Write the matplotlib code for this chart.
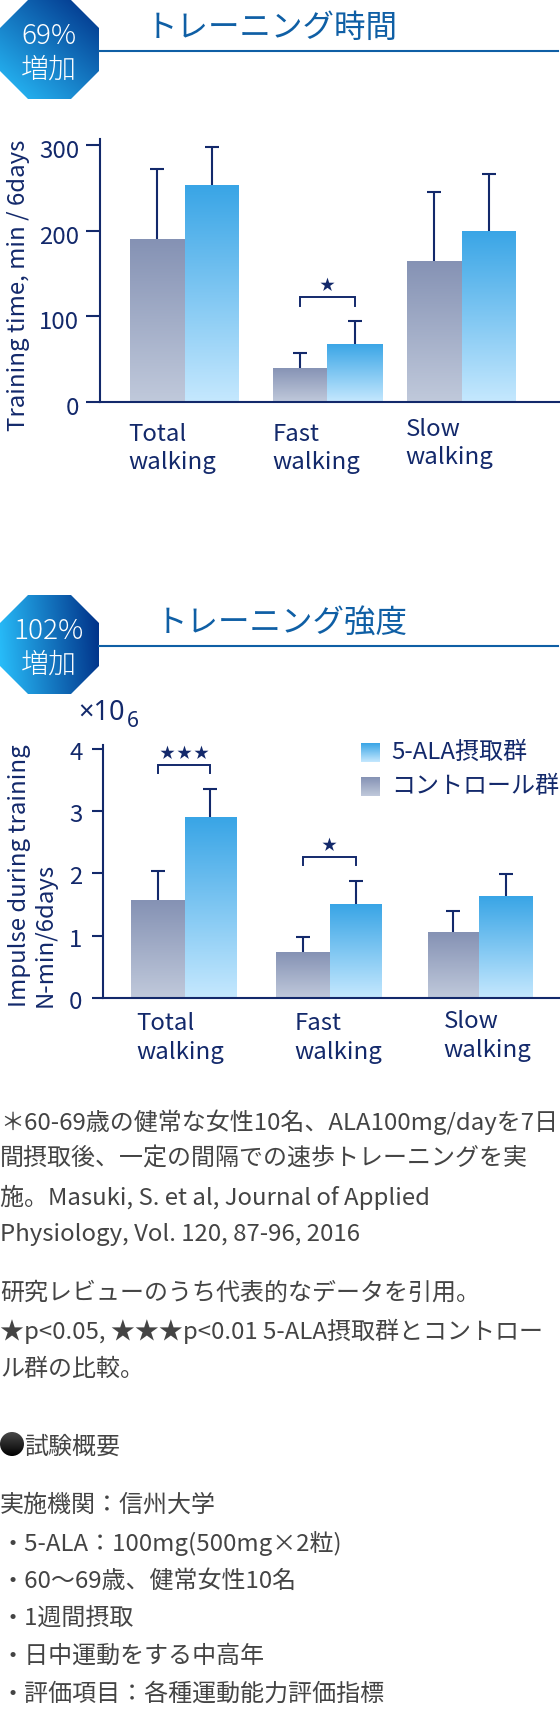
import numpy as np
import matplotlib
matplotlib.use('Agg')
import matplotlib.pyplot as plt
from matplotlib.patches import Polygon, Circle
from matplotlib.transforms import ScaledTranslation

plt.rcParams['font.family'] = ['Noto Sans CJK JP', 'DejaVu Sans']

# ── Data ────────────────────────────────────────────────────────────────
categories = ['Total\nwalking', 'Fast\nwalking', 'Slow\nwalking']

time_control = [190, 40, 165]
time_control_err = [272, 57, 245]
time_ala = [253, 68, 200]
time_ala_err = [298, 95, 266]

impulse_control = [1.57, 0.73, 1.05]
impulse_control_err = [2.03, 0.97, 1.39]
impulse_ala = [2.90, 1.50, 1.63]
impulse_ala_err = [3.36, 1.87, 1.99]

time_ticks = [0, 100, 200, 300]
impulse_ticks = [0, 1, 2, 3, 4]

# group index, bracket level, foot level, number of stars
time_marks = [(1, 122, 112, 1)]
impulse_marks = [(0, 3.74, 3.61, 3), (1, 2.26, 2.13, 1)]

body_lines = [
    ('＊60-69歳の健常な女性10名、ALA100mg/dayを7日', 1122),
    ('間摂取後、一定の間隔での速歩トレーニングを実', 1159),
    ('施。Masuki, S. et al, Journal of Applied', 1197),
    ('Physiology, Vol. 120, 87-96, 2016', 1235),
    ('研究レビューのうち代表的なデータを引用。', 1293),
    ('★p<0.05, ★★★p<0.01 5-ALA摂取群とコントロー', 1331),
    ('ル群の比較。', 1369),
    ('試験概要', 1447),
    ('実施機関：信州大学', 1505),
    ('・5-ALA：100mg(500mg×2粒)', 1543),
    ('・60～69歳、健常女性10名', 1581),
    ('・1週間摂取', 1619),
    ('・日中運動をする中高年', 1656),
    ('・評価項目：各種運動能力評価指標', 1694),
]

# ── Style ───────────────────────────────────────────────────────────────
W, H = 560, 1712
NAVY = '#13296b'
TITLE = '#0f5fa5'
GREY = '#444444'
CONTROL = ('#8592b4', '#c0c9db')
ALA = ('#39a5e6', '#c5e8fe')


def pt(px):
    return px * 0.72


def vgrad(top, bottom):
    c0 = np.array(matplotlib.colors.to_rgb(top))
    c1 = np.array(matplotlib.colors.to_rgb(bottom))
    t = np.linspace(0, 1, 128)[:, None, None]
    return c0 + (c1 - c0) * t


fig = plt.figure(figsize=(W / 100, H / 100), dpi=100)
page = fig.add_axes([0, 0, 1, 1], zorder=5)
page.set_xlim(0, W)
page.set_ylim(H, 0)
page.axis('off')
page.patch.set_alpha(0)


def chart(left, top, bottom, ymax, ticks, control, control_err, ala, ala_err,
          edges, marks, tick_len, pad, label_drop):
    ax = fig.add_axes([left / W, 1 - bottom / H, (W - left) / W, (bottom - top) / H])
    ax.set_xlim(left, W)
    ax.set_ylim(0, ymax)
    ax.patch.set_alpha(0)
    for s in ['top', 'right']:
        ax.spines[s].set_visible(False)
    for s in ['left', 'bottom']:
        ax.spines[s].set_color(NAVY)
        ax.spines[s].set_linewidth(1.5)
    ax.set_xticks([])
    ax.set_yticks(ticks)
    ax.tick_params(axis='y', length=pt(tick_len), width=1.5, color=NAVY, labelcolor=NAVY,
                   labelsize=pt(24), pad=pt(pad))
    # the numerals sit a little below their tick marks
    drop = ScaledTranslation(0, -pt(label_drop) / 72, fig.dpi_scale_trans)
    for label in ax.get_yticklabels():
        label.set_transform(label.get_transform() + drop)

    centers = []
    for i, (x0, x1, x2) in enumerate(edges):
        for vals, errs, a, b, cols in [(control, control_err, x0, x1, CONTROL),
                                       (ala, ala_err, x1, x2, ALA)]:
            bar = ax.bar(a, vals[i], b - a, align='edge', color='none')[0]
            im = ax.imshow(vgrad(*cols), extent=(a, b, 0, vals[i]), aspect='auto',
                           interpolation='bilinear', zorder=2)
            im.set_clip_path(bar)
            c = (a + b) / 2
            _, caps, _ = ax.errorbar(c, vals[i], yerr=[[0], [errs[i] - vals[i]]],
                                     color=NAVY, elinewidth=1.5, capsize=pt(7),
                                     capthick=1.5, zorder=3)
            caps[0].set_visible(False)
            centers.append(c)
    ax.set_xlim(left, W)
    ax.set_ylim(0, ymax)

    for group, level, foot, n in marks:
        xa, xb = centers[2 * group], centers[2 * group + 1]
        ax.plot([xa, xa, xb, xb], [foot, level, level, foot], color=NAVY, lw=1.4,
                solid_joinstyle='miter', zorder=3)
        mid = (xa + xb) / 2
        for k in range(n):
            ax.annotate('★', (mid, level), xytext=(pt((k - (n - 1) / 2) * 17), pt(11.5)),
                        textcoords='offset points', ha='center', va='center',
                        fontsize=pt(15), color=NAVY)
    return ax


# ── Training time ───────────────────────────────────────────────────────
chart(100, 139, 402, 306.9, time_ticks, time_control, time_control_err, time_ala,
      time_ala_err, [(129.5, 185, 239), (273, 327, 382.5), (406.5, 462, 516)], time_marks,
      14, 7, 4)

# ── Training impulse ────────────────────────────────────────────────────
chart(102.5, 745, 997.7, 4.063, impulse_ticks, impulse_control, impulse_control_err,
      impulse_ala, impulse_ala_err, [(131, 184.5, 236), (276, 330, 381.5), (427.5, 479, 533)],
      impulse_marks, 11, 9, 2)


# ── Badges and headings ─────────────────────────────────────────────────
def badge(y0, angle, pct, pct_y, word_y):
    xs = np.array([28, 71, 99, 99, 71, 28, 0, 0])
    ys = np.array([0, 0, 28, 71, 99, 99, 71, 28]) + y0
    u, v = np.meshgrid(np.linspace(0, 1, 128), np.linspace(0, 1, 128))
    d = u * np.cos(angle) + (1 - v) * np.sin(angle)
    d = (d - d.min()) / (d.max() - d.min())
    light = np.array(matplotlib.colors.to_rgb('#29c0fc'))
    dark = np.array(matplotlib.colors.to_rgb('#002f86'))
    img = light + (dark - light) * np.clip(d, 0, 1)[..., None]
    poly = Polygon(np.c_[xs, ys], closed=True, fc='none', ec='none', transform=page.transData)
    page.add_patch(poly)
    im = page.imshow(img, extent=(0, 99, y0 + 99, y0), aspect='auto',
                     interpolation='bilinear', zorder=1)
    im.set_clip_path(poly)
    page.text(49, pct_y, pct, color='white', fontsize=pt(28), ha='center', va='center',
              zorder=2, weight='light')
    page.text(49, word_y, '増加', color='white', fontsize=pt(28), ha='center', va='center',
              zorder=2, weight='light')


badge(0, np.radians(50), '69%', 36, 70)
badge(595, np.radians(5), '102%', 631, 665)
page.set_xlim(0, W)
page.set_ylim(H, 0)

page.plot([99, 558], [50.5, 50.5], color=TITLE, lw=1.5)
page.plot([99, 558], [645.5, 645.5], color=TITLE, lw=1.5)
page.text(146, 28, 'トレーニング時間', color=TITLE, fontsize=pt(31.5), va='center')
page.text(156, 624, 'トレーニング強度', color=TITLE, fontsize=pt(31.5), va='center')

# ── Axis titles and category labels ─────────────────────────────────────
page.text(19, 285.5, 'Training time, min / 6days', color=NAVY, fontsize=pt(24),
          rotation=90, ha='center', va='center')
page.text(20, 1007, 'Impulse during training', color=NAVY, fontsize=pt(24),
          rotation=90, ha='center', va='bottom')
page.text(45, 1007, 'N-min/6days', color=NAVY, fontsize=pt(24),
          rotation=90, ha='center', va='bottom')
page.text(78, 713, '×10', color=NAVY, fontsize=pt(27), va='center', family='Noto Sans')
page.text(127, 721, '6', color=NAVY, fontsize=pt(21), va='center', family='Noto Sans')

for name, x, y in zip(categories, [128.5, 272.5, 405.5], [434, 434, 429]):
    for j, part in enumerate(name.split('\n')):
        page.text(x, y + 28.7 * j, part, color=NAVY, fontsize=pt(24), va='center')
for name, x, y in zip(categories, [136.5, 294.5, 443.5], [1024, 1024, 1022]):
    for j, part in enumerate(name.split('\n')):
        page.text(x, y + 28.7 * j, part, color=NAVY, fontsize=pt(24), va='center')

# ── Legend ──────────────────────────────────────────────────────────────
for y0, cols, label in [(743, ALA, '5-ALA摂取群'), (777, CONTROL, 'コントロール群')]:
    page.imshow(vgrad(*cols), extent=(361, 380, y0 + 19, y0), aspect='auto',
                interpolation='bilinear', zorder=1)
    page.text(391, y0 + 9, label, color=NAVY, fontsize=pt(24), va='center')

# ── Notes ───────────────────────────────────────────────────────────────
for line, y in body_lines:
    x = 24 if line == '試験概要' else 0
    page.text(x, y, line, color=GREY, fontsize=pt(24), va='center')
dot = Circle((12, 1444), 12, fc='none', ec='none')
page.add_patch(dot)
dot_im = page.imshow(vgrad('#4a4a4a', '#000000'), extent=(0, 24, 1456, 1432), aspect='auto',
                     interpolation='bilinear', zorder=1)
dot_im.set_clip_path(dot)
page.set_xlim(0, W)
page.set_ylim(H, 0)

fig.savefig('out.png', dpi=100)
plt.close()
